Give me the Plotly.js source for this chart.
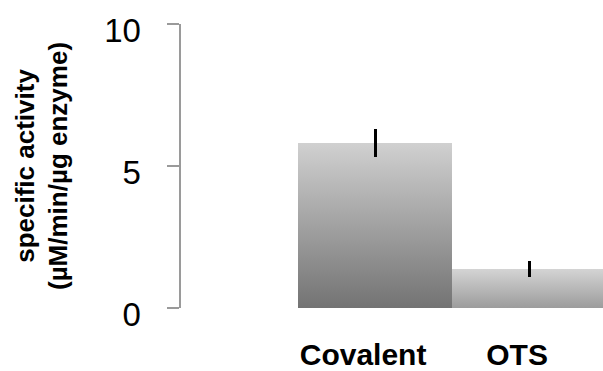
<!DOCTYPE html>
<html>
<head>
<meta charset="utf-8">
<script src="https://cdn.plot.ly/plotly-3.0.1.min.js"></script>
<style>html,body{margin:0;padding:0;background:#fff;}#chart{width:603px;height:371px;}</style>
</head>
<body>
<div id="chart"></div>
<script>
const categories = ["Covalent", "OTS"];
const activity = [5.8, 1.37];
const activityError = [0.5, 0.28];
const yTickValues = [0, 5, 10];
const yTickLabels = ["0", "5", "10"];
const gradientTops = ["#d0d0d0", "#d4d4d4"];
const gradientBottoms = ["#737373", "#9c9c9c"];

const xIndex = categories.map((c, i) => i);

const trace = {
  type: "bar",
  x: xIndex,
  y: activity,
  width: 1,
  marker: {color: "#a8a8a8", line: {width: 0}},
  error_y: {type: "data", array: activityError, visible: true, color: "#000000", thickness: 3, width: 0},
  hoverinfo: "skip"
};

const layout = {
  width: 603, height: 371,
  margin: {l: 181, r: 0, t: 24, b: 63},
  paper_bgcolor: "#ffffff", plot_bgcolor: "#ffffff",
  showlegend: false,
  bargap: 0,
  font: {family: "Liberation Sans, Arial, sans-serif", color: "#000000"},
  xaxis: {
    range: [-1.26, 1.48],
    tickvals: xIndex,
    ticktext: categories,
    showgrid: false, zeroline: false, showline: false,
    ticks: "",
    tickfont: {size: 30, family: "Liberation Sans, Arial, sans-serif", weight: "bold", color: "#000000"},
    ticklabelshift: -12,
    ticklabelstandoff: 26,
    fixedrange: true
  },
  yaxis: {
    range: [0, 10],
    tickvals: yTickValues,
    ticktext: yTickLabels,
    showgrid: false, zeroline: false,
    showline: true, linecolor: "#9a9a9a", linewidth: 2.5,
    ticks: "outside", ticklen: 12, tickwidth: 2.5, tickcolor: "#9a9a9a",
    tickfont: {size: 33, family: "Liberation Sans, Arial, sans-serif", color: "#000000"},
    ticklabelstandoff: 19,
    ticklabelshift: 6,
    title: {
      text: "<b>specific activity<br>(µM/min/µg enzyme)</b>",
      font: {size: 26, family: "Liberation Sans, Arial, sans-serif", color: "#000000"},
      standoff: 29
    },
    fixedrange: true
  }
};

Plotly.newPlot("chart", [trace], layout, {staticPlot: true, displayModeBar: false}).then(function (gd) {
  const svg = gd.querySelector(".main-svg");
  let defs = svg.querySelector("defs");
  const ns = "http://www.w3.org/2000/svg";
  if (!defs) { defs = document.createElementNS(ns, "defs"); svg.insertBefore(defs, svg.firstChild); }
  const paths = gd.querySelectorAll(".barlayer .point path");
  paths.forEach(function (p, i) {
    const g = document.createElementNS(ns, "linearGradient");
    g.setAttribute("id", "barGrad" + i);
    g.setAttribute("x1", "0"); g.setAttribute("y1", "0");
    g.setAttribute("x2", "0"); g.setAttribute("y2", "1");
    const s1 = document.createElementNS(ns, "stop");
    s1.setAttribute("offset", "0"); s1.setAttribute("stop-color", gradientTops[i]);
    const s2 = document.createElementNS(ns, "stop");
    s2.setAttribute("offset", "1"); s2.setAttribute("stop-color", gradientBottoms[i]);
    g.appendChild(s1); g.appendChild(s2);
    defs.appendChild(g);
    p.style.fill = "url(#barGrad" + i + ")";
  });
});
</script>
</body>
</html>
